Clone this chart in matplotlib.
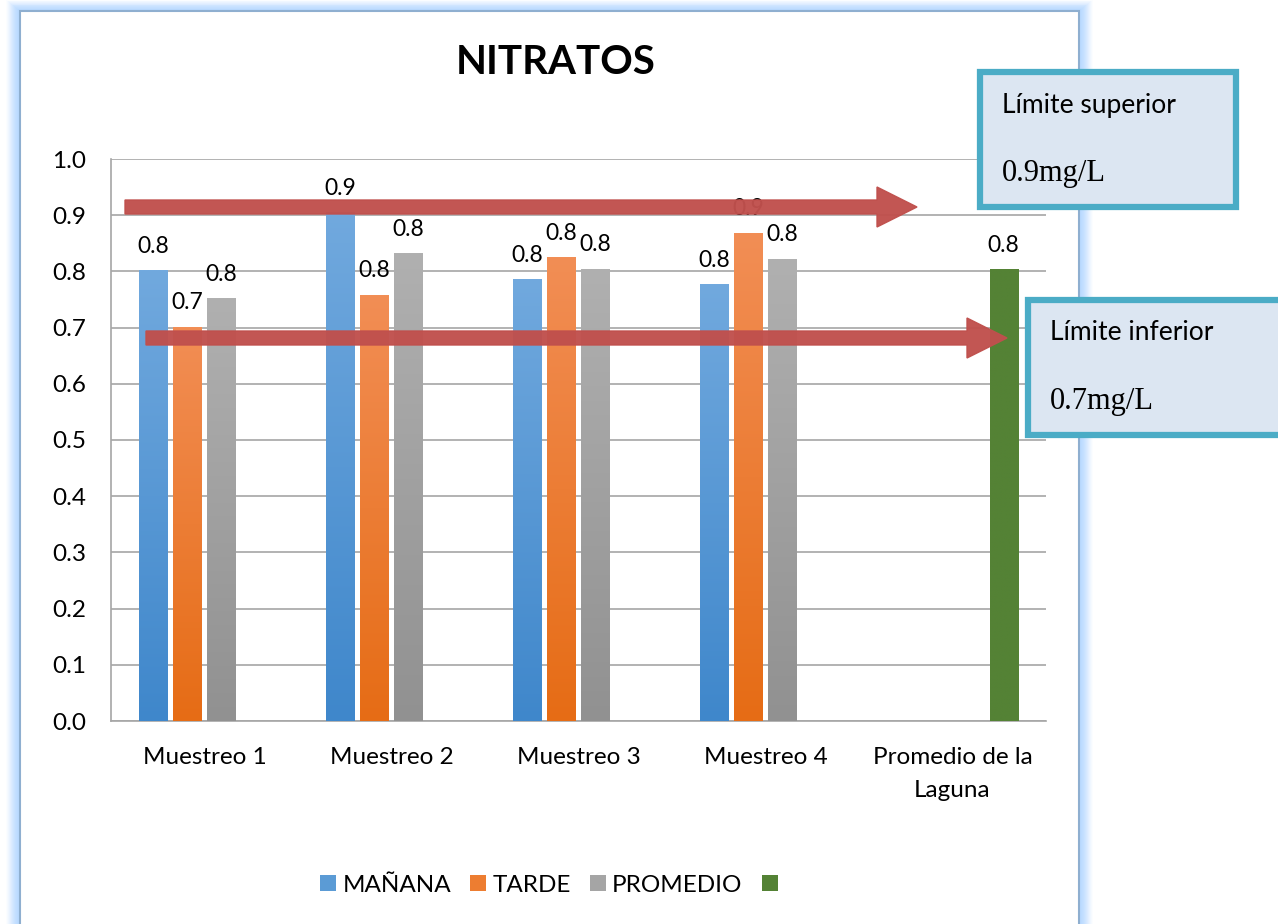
import numpy as np
import matplotlib
matplotlib.use("Agg")
import matplotlib.pyplot as plt
from matplotlib.patches import Rectangle, FancyArrow
from matplotlib.colors import LinearSegmentedColormap

plt.rcParams['font.family'] = ['Lato', 'DejaVu Sans']

categories = ["Muestreo 1", "Muestreo 2", "Muestreo 3", "Muestreo 4", "Promedio de la\nLaguna"]
series_names = ["MAÑANA", "TARDE", "PROMEDIO", ""]
manana = [0.801, 0.904, 0.785, 0.776, np.nan]
tarde = [0.701, 0.758, 0.824, 0.868, np.nan]
promedio = [0.751, 0.831, 0.804, 0.822, np.nan]
laguna = [np.nan, np.nan, np.nan, np.nan, 0.803]
series = [manana, tarde, promedio, laguna]
yticks = [0.0, 0.1, 0.2, 0.3, 0.4, 0.5, 0.6, 0.7, 0.8, 0.9, 1.0]
limite_superior = 0.9
limite_inferior = 0.7

top_colors = ["#71A9DE", "#F28E55", "#B0B0B0", "#548235"]
bot_colors = ["#3F87CB", "#E66C15", "#919191", "#548235"]

W, H = 1278, 924
fig = plt.figure(figsize=(W / 100, H / 100), dpi=100)
fig.patch.set_facecolor("white")

def px(x, y):
    return x / W, 1 - y / H

def frame_rect(x0, y0, x1, y1, **kw):
    r = Rectangle((x0 / W, 1 - y1 / H), (x1 - x0) / W, (y1 - y0) / H,
                  transform=fig.transFigure, **kw)
    fig.patches.append(r)
    return r

# chart frame glow
glow = "#B3D7FF"
n = 14
for i in range(n):
    d = n - i
    alpha = 0.12 + 0.6 * (i / n)
    frame_rect(20 - d, 11 - d * 0.8, 1079 + d, H + 20, facecolor=glow, edgecolor="none", alpha=alpha * 0.4)
frame_rect(20, 11, 1079, H + 20, facecolor="white", edgecolor="#8FAFD0", linewidth=1.5)

# axes
x0, x1, ytop, ybot = 111, 1046, 159, 721
ax = fig.add_axes([x0 / W, 1 - ybot / H, (x1 - x0) / W, (ybot - ytop) / H])
ax.set_facecolor("none")
ax.set_zorder(2)

FS = 17.5
n_cat = len(categories)
xs = np.arange(n_cat)
bw = 0.15
offsets = [-0.273, -0.091, 0.091, 0.273]

for s, (vals, off) in enumerate(zip(series, offsets)):
    cmap = LinearSegmentedColormap.from_list("g%d" % s, [bot_colors[s], top_colors[s]])
    bars = ax.bar(xs + off, np.nan_to_num(vals, nan=0.0), width=bw, color="none", edgecolor="none", zorder=3)
    for xi, v, b in zip(xs, vals, bars):
        if np.isnan(v):
            continue
        bx = xi + off - bw / 2
        grad = np.linspace(0, 1, 256).reshape(-1, 1)
        ax.imshow(grad, cmap=cmap, origin="lower", extent=(bx, bx + bw, 0, v),
                  aspect="auto", zorder=3, interpolation="bilinear")
        ax.annotate(f"{v:.1f}", (xi + off, v), xytext=(0, 10), textcoords="offset points",
                    ha="center", va="bottom", fontsize=16.5, color="#000000", zorder=4)

ax.set_xlim(-0.5, n_cat - 0.5)
ax.set_ylim(0, 1.0)
ax.set_yticks(yticks)
ax.set_yticklabels([f"{t:.1f}" for t in yticks], fontsize=FS)
ax.set_xticks(xs)
ax.set_xticklabels(categories, fontsize=FS, linespacing=1.7)
ax.tick_params(axis="both", length=0)
ax.tick_params(axis="y", pad=18)
ax.tick_params(axis="x", pad=19)
ax.grid(axis="y", color="#A6A6A6", linewidth=1.2, zorder=1)
ax.set_axisbelow(True)
for sp in ["top", "right"]:
    ax.spines[sp].set_visible(False)
for sp in ["left", "bottom"]:
    ax.spines[sp].set_color("#A6A6A6")
    ax.spines[sp].set_linewidth(1.2)

# title
fig.text(*px(556, 63), "NITRATOS", ha="center", va="center", fontsize=29, fontweight="bold")

# arrows (annotation shapes, in pixel space)
arrow_color = "#C0504D"
def arrow(xa, xb, y):
    xa_in, xb_in = xa / 100, xb / 100
    y_in = (H - y) / 100
    a = FancyArrow(xa_in, y_in, xb_in - xa_in, 0, width=0.14, head_width=0.40,
                   head_length=0.40, length_includes_head=True,
                   transform=fig.dpi_scale_trans, color=arrow_color, alpha=0.97, zorder=5)
    fig.patches.append(a)
arrow(125, 917, 207)
arrow(146, 1007, 338)

# callout boxes
def callout(bx0, by0, bx1, by1, t1, t2):
    frame_rect(bx0, by0, bx1, by1, facecolor="#DCE6F2", edgecolor="#4BACC6", linewidth=4.5, zorder=6)
    fig.text(*px(bx0 + 22, by0 + 33), t1, ha="left", va="center", fontsize=19, zorder=7)
    fig.text(*px(bx0 + 22, by0 + 102), t2, ha="left", va="center", fontsize=22,
             family="Liberation Serif", zorder=7)
callout(980, 72, 1236, 207, "Límite superior", f"{limite_superior}mg/L")
callout(1028, 300, 1285, 435, "Límite inferior", f"{limite_inferior}mg/L")

# legend
handles = [Rectangle((0, 0), 1, 1, facecolor=c) for c in [
    "#5B9BD5", "#ED7D31", "#A5A5A5", "#548235"]]
fig.legend(handles, series_names, loc="center", bbox_to_anchor=px(552, 885), ncol=4,
           frameon=False, fontsize=FS, handlelength=0.65, handleheight=0.65,
           handletextpad=0.25, columnspacing=0.8)

fig.savefig("out.png", dpi=100)
